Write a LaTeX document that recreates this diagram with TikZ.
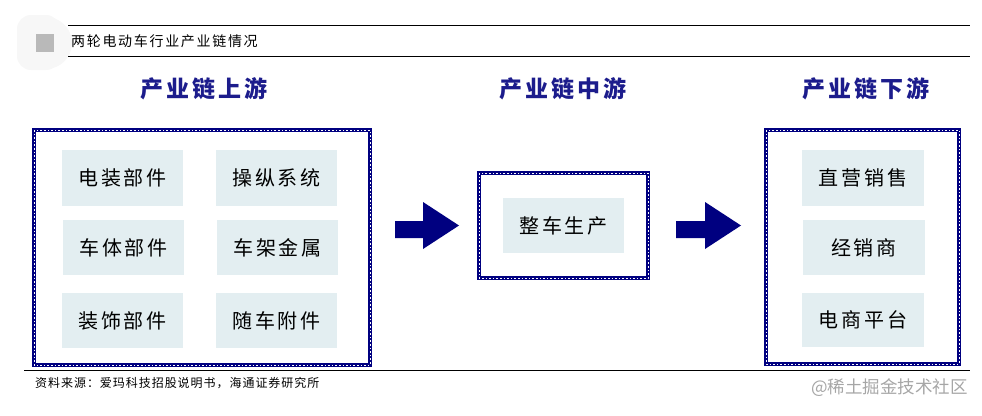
\documentclass[tikz,border=0pt]{standalone}
\usepackage{fontspec}
\newfontfamily\cjk{Noto Sans CJK SC}
\usetikzlibrary{positioning}
\definecolor{navy}{HTML}{000080}
\definecolor{headblue}{HTML}{1C1C8C}
\definecolor{cellfill}{HTML}{E3EEF1}
\tikzset{
  frameline/.style={draw=navy, line width=3.6pt},
  framedash/.style={draw=white, line width=0.5pt, dash pattern=on 1.6pt off 2pt},
  cell/.style={fill=cellfill, inner sep=0pt, font=\cjk\fontsize{20}{22}\selectfont\addfontfeature{LetterSpace=14}},
  heading/.style={font=\cjk\bfseries\fontsize{23}{26}\selectfont\addfontfeature{LetterSpace=13}, text=headblue},
  bigarrow/.style={fill=navy, draw=none},
  rule/.style={draw=black, line width=1pt}
}
\begin{document}
\begin{tikzpicture}[x=1pt,y=-1pt]
\useasboundingbox (0,0) rectangle (982,415);
% logo blob
\fill[gray!6, rounded corners=14pt] (17,15) rectangle (60,70);
\fill[gray!6] (46,43) circle (26);
\fill[gray!55] (36,34) rectangle (54,52);
% title rules
\coordinate (t1) at (68,25); \coordinate (t2) at (970,25);
\coordinate (t3) at (68,56); \coordinate (t4) at (970,56);
\draw[rule] (t1) -- (t2);
\draw[rule] (t3) -- (t4);
\node[anchor=west, inner sep=0pt, font=\cjk\fontsize{14}{16}\selectfont\addfontfeature{LetterSpace=12}] (title) at (71,41) {两轮电动车行业产业链情况};
% headings
\node[heading] (h1) at (204,89) {产业链上游};
\node[heading] (h2) at (563,89) {产业链中游};
\node[heading] (h3) at (866,89) {产业链下游};
% frames
\foreach \a/\b/\c/\d/\n in {34/130/370/365/f1, 479/173/648/278/f2, 766/130/959/364/f3}{
  \draw[frameline] (\a,\b) rectangle (\c,\d);
  \draw[framedash] (\a,\b) rectangle (\c,\d);
  \coordinate (\n) at ({(\a+\c)/2},{(\b+\d)/2});
}
% left cells
\node[cell, minimum width=121pt, minimum height=56pt] (c11) at (122.5,178) {电装部件};
\node[cell, minimum width=121pt, minimum height=56pt] (c12) at (276.5,178) {操纵系统};
\node[cell, minimum width=121pt, minimum height=55pt] (c21) at (123.5,247.5) {车体部件};
\node[cell, minimum width=121pt, minimum height=55pt] (c22) at (277.5,247.5) {车架金属};
\node[cell, minimum width=121pt, minimum height=55pt] (c31) at (122.5,320.5) {装饰部件};
\node[cell, minimum width=121pt, minimum height=55pt] (c32) at (276.5,320.5) {随车附件};
% middle cell
\node[cell, minimum width=121pt, minimum height=55pt] (m1) at (563.5,225.5) {整车生产};
% right cells
\node[cell, minimum width=122pt, minimum height=56pt] (r1) at (863,178) {直营销售};
\node[cell, minimum width=122pt, minimum height=55pt] (r2) at (864,247.5) {经销商};
\node[cell, minimum width=122pt, minimum height=54pt] (r3) at (863,320) {电商平台};
% arrows
\fill[bigarrow] (395,221) -- (423,221) -- (423,202) -- (459,225.5) -- (423,249) -- (423,238) -- (395,238) -- cycle;
\fill[bigarrow] (676,221) -- (705,221) -- (705,202) -- (741,225.5) -- (705,249) -- (705,238) -- (676,238) -- cycle;
% bottom rule
\coordinate (b1) at (24,370); \coordinate (b2) at (970,370);
\draw[rule] (b1) -- (b2);
\node[anchor=west, inner sep=0pt, font=\cjk\fontsize{12}{14}\selectfont\addfontfeature{LetterSpace=8}] (src) at (35,383) {资料来源：爱玛科技招股说明书，海通证券研究所};
\node[anchor=east, inner sep=0pt, text=gray!70, font=\cjk\fontsize{17.5}{19}\selectfont] (wm) at (968,388) {@稀土掘金技术社区};
\end{tikzpicture}
\end{document}
